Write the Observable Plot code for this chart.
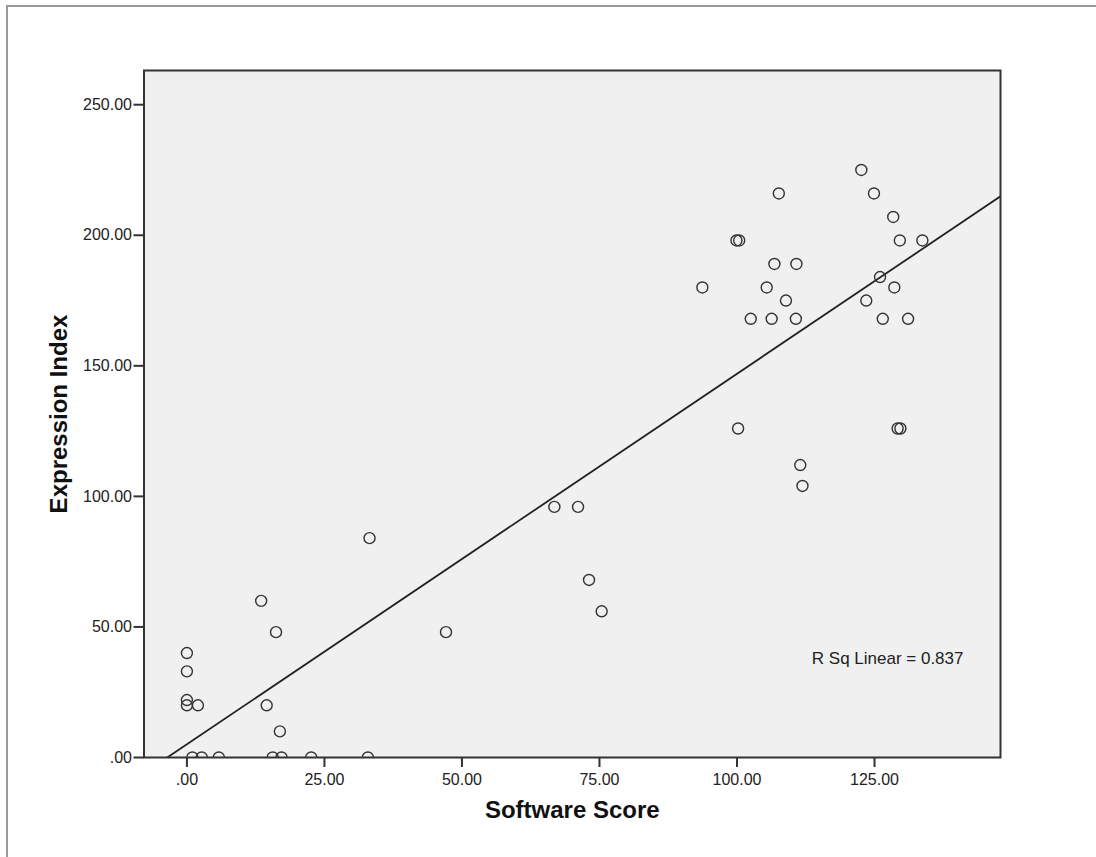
<!DOCTYPE html>
<html>
<head>
<meta charset="utf-8">
<script src="https://cdn.jsdelivr.net/npm/d3@7"></script>
<script src="https://cdn.jsdelivr.net/npm/@observablehq/plot@0.6"></script>
<style>
  html, body { margin: 0; padding: 0; background: #fff; }
  #wrap { position: relative; width: 1096px; height: 857px; overflow: hidden; }
  #outer { position: absolute; left: 6px; top: 5px; right: -10px; bottom: -10px;
           border-left: 2px solid #9a9a9a; border-top: 2px solid #9a9a9a; }
  #chart { position: absolute; left: 0; top: 0; }
</style>
</head>
<body>
<div id="wrap"><div id="outer"></div><div id="chart"></div></div>
<script>
// Software Score (x) and Expression Index (y)
const softwareScore = [
  0, 0, 0, 0, 2, 13.5, 14.5, 16.2, 16.9, 33.2, 47.1,
  1.0, 2.7, 5.8, 15.6, 17.2, 22.6, 32.9,
  66.8, 71.1, 73.1, 75.4,
  122.6, 107.6, 124.9, 128.4, 99.9, 100.4, 129.6, 133.7, 106.8, 110.8,
  126.0, 93.7, 105.4, 128.6, 108.9, 123.5, 102.5, 106.3, 110.7, 126.5,
  131.1, 100.2, 129.2, 129.7, 111.5, 111.9
];
const expressionIndex = [
  40, 33, 22, 20, 20, 60, 20, 48, 10, 84, 48,
  0, 0, 0, 0, 0, 0, 0,
  96, 96, 68, 56,
  225, 216, 216, 207, 198, 198, 198, 198, 189, 189,
  184, 180, 180, 180, 175, 175, 168, 168, 168, 168,
  168, 126, 126, 126, 112, 104
];
const xTicks = [0, 25, 50, 75, 100, 125];
const yTicks = [0, 50, 100, 150, 200, 250];
const xDomain = [-7.8, 147.9];
const yDomain = [0, 263.1];
const rSqLabel = "R Sq Linear = 0.837";

const data = softwareScore.map((x, i) => ({x, y: expressionIndex[i]}));

// least-squares fit
const mx = d3.mean(softwareScore), my = d3.mean(expressionIndex);
const sxy = d3.sum(data, d => (d.x - mx) * (d.y - my));
const sxx = d3.sum(data, d => (d.x - mx) ** 2);
const slope = sxy / sxx, intercept = my - slope * mx;
const fitLine = xDomain.map(x => ({x, y: intercept + slope * x}));

const fmt = d => d === 0 ? ".00" : d.toFixed(2);
const font = "'Liberation Sans', Arial, sans-serif";

const chart = Plot.plot({
  width: 1096,
  height: 857,
  marginLeft: 143.5,
  marginRight: 96,
  marginTop: 70,
  marginBottom: 100,
  style: {fontFamily: font, fontSize: "16px", color: "#222", background: "transparent"},
  x: {domain: xDomain},
  y: {domain: yDomain},
  marks: [
    Plot.frame({fill: "#f0f0f0"}),
    Plot.line(fitLine, {x: "x", y: "y", stroke: "#222", strokeWidth: 1.8, clip: true}),
    Plot.dot(data, {x: "x", y: "y", r: 5.5, stroke: "#333", strokeWidth: 1.4, fill: "none", clip: true}),
    Plot.frame({stroke: "#333", strokeWidth: 2}),
    Plot.axisX({ticks: xTicks, tickFormat: fmt, tickSize: 10, tickPadding: 6, strokeWidth: 2, stroke: "#333", label: null, fontSize: 16}),
    Plot.axisY({ticks: yTicks, tickFormat: fmt, tickSize: 10, tickPadding: 2, strokeWidth: 2, stroke: "#333", label: null, fontSize: 16}),
    Plot.text([rSqLabel], {frameAnchor: "bottom-right", dx: -37, dy: -94, textAnchor: "end", fontSize: 17, fill: "#222"}),
    Plot.text(["Software Score"], {frameAnchor: "bottom", dy: 60, textAnchor: "middle", fontSize: 24, fontWeight: "bold", fill: "#111"}),
    Plot.text(["Expression Index"], {frameAnchor: "left", dx: -84.5, rotate: -90, textAnchor: "middle", fontSize: 24, fontWeight: "bold", fill: "#111"})
  ]
});
document.getElementById("chart").appendChild(chart);
</script>
</body>
</html>
